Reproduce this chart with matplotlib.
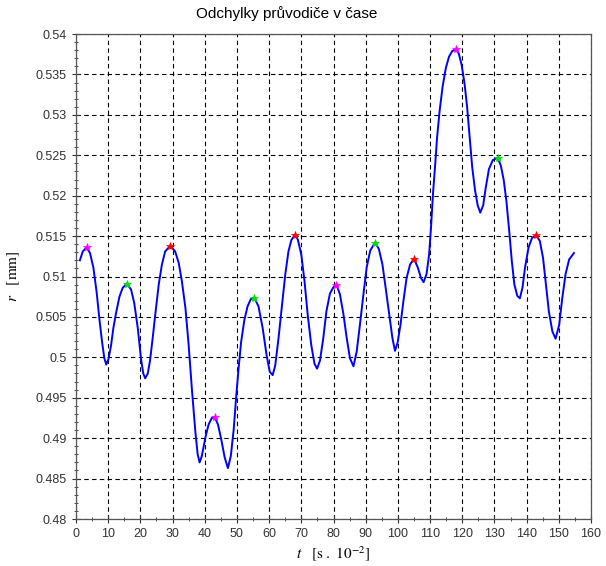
import numpy as np
import matplotlib
matplotlib.use("Agg")
import matplotlib.pyplot as plt
from matplotlib import ticker

# values (time in s.10^-2, radius deviation in mm)
t = [1.2, 2.1, 3.3, 4.35, 5.4, 6.4, 7.25, 8.1, 8.8, 9.4,
     10.1, 10.9, 11.6, 12.4, 13.5, 14.5, 15.8, 17.1, 18.1, 19.2,
     20.2, 20.9, 21.5, 22.3, 23.0, 23.8, 24.6, 25.7, 26.7, 27.7,
     29.3, 30.8, 31.9, 32.9, 34.0, 35.0, 36.0, 37.1, 37.8, 38.4,
     39.1, 40.2, 41.2, 42.2, 43.1, 44.1, 45.1, 46.2, 47.2, 48.1,
     49.0, 49.7, 50.5, 51.3, 52.3, 53.3, 54.3, 55.4, 56.7, 58.0,
     59.2, 60.2, 61.1, 61.9, 62.9, 64.0, 65.0, 66.0, 66.9, 67.9,
     68.9, 70.0, 71.0, 72.0, 73.1, 74.1, 74.9, 75.8, 76.8, 77.8,
     78.9, 80.0, 80.9, 82.0, 83.1, 84.1, 85.1, 86.2, 87.2, 88.2,
     89.3, 90.3, 91.4, 92.9, 94.1, 95.2, 96.2, 97.3, 98.3, 99.1,
     99.9, 100.8, 101.7, 102.7, 103.8, 105.0, 106.2, 107.2, 108.0, 108.9,
     109.7, 110.3, 110.9, 111.6, 112.2, 113.0, 113.9, 114.9, 115.9, 116.9,
     118.0, 118.9, 119.8, 120.7, 121.5, 122.3, 123.1, 124.0, 124.8, 125.6,
     126.5, 127.3, 128.3, 129.5, 131.0, 132.0, 132.9, 133.7, 134.6, 135.4,
     136.2, 137.1, 137.9, 138.7, 139.5, 140.6, 141.7, 143.0, 144.1, 145.1,
     146.0, 146.9, 148.0, 149.0, 150.1, 151.1, 152.1, 153.2, 154.7]
r = [0.5120, 0.5131, 0.5136, 0.5129, 0.5111, 0.5081, 0.5048, 0.5019, 0.4999, 0.4991,
     0.4998, 0.5015, 0.5036, 0.5054, 0.5075, 0.5086, 0.5091, 0.5084, 0.5067, 0.5036,
     0.4998, 0.4980, 0.4974, 0.4980, 0.4996, 0.5023, 0.5052, 0.5090, 0.5115, 0.5131,
     0.5138, 0.5131, 0.5117, 0.5094, 0.5061, 0.5015, 0.4961, 0.4907, 0.4880, 0.4870,
     0.4878, 0.4901, 0.4917, 0.4925, 0.4926, 0.4917, 0.4899, 0.4876, 0.4863, 0.4878,
     0.4911, 0.4948, 0.4986, 0.5019, 0.5046, 0.5063, 0.5072, 0.5074, 0.5063, 0.5036,
     0.5003, 0.4982, 0.4978, 0.4990, 0.5023, 0.5065, 0.5102, 0.5131, 0.5145, 0.5151,
     0.5146, 0.5127, 0.5094, 0.5052, 0.5015, 0.4992, 0.4986, 0.4996, 0.5023, 0.5057,
     0.5079, 0.5087, 0.5090, 0.5078, 0.5053, 0.5024, 0.4999, 0.4989, 0.5007, 0.5040,
     0.5078, 0.5111, 0.5132, 0.5142, 0.5134, 0.5115, 0.5086, 0.5053, 0.5024, 0.5008,
     0.5018, 0.5040, 0.5069, 0.5098, 0.5115, 0.5122, 0.5111, 0.5098, 0.5093, 0.5103,
     0.5127, 0.5161, 0.5202, 0.5239, 0.5273, 0.5306, 0.5335, 0.5358, 0.5372, 0.5379,
     0.5381, 0.5376, 0.5362, 0.5339, 0.5310, 0.5273, 0.5235, 0.5206, 0.5188, 0.5179,
     0.5188, 0.5210, 0.5233, 0.5244, 0.5247, 0.5237, 0.5219, 0.5194, 0.5156, 0.5119,
     0.5090, 0.5076, 0.5073, 0.5086, 0.5111, 0.5136, 0.5148, 0.5151, 0.5144, 0.5123,
     0.5090, 0.5057, 0.5032, 0.5023, 0.5040, 0.5074, 0.5103, 0.5121, 0.5129]

# marked maxima, colours cycle magenta / green / red
peak_t = [3.3, 15.8, 29.3, 43.1, 55.4, 67.9, 80.9, 92.9, 105.0, 118.0, 131.0, 143.0]
peak_r = [0.5136, 0.5091, 0.5138, 0.4926, 0.5074, 0.5151, 0.5090, 0.5142, 0.5122, 0.5381, 0.5247, 0.5151]
peak_colors = ['#ff00ff', '#00e000', '#ff0000'] * 4

plt.rcParams['font.family'] = ['Liberation Sans', 'DejaVu Sans']
plt.rcParams['mathtext.fontset'] = 'stix'

fig = plt.figure(figsize=(6.06, 5.66), dpi=100)
ax = fig.add_axes([76/606, 1 - 519/566, (591-76)/606, (519-34)/566])

ax.plot(t, r, color='#0000ff', lw=1.4, zorder=3)
for pt, pr, c in zip(peak_t, peak_r, peak_colors):
    ax.plot(pt, pr, marker='*', color=c, ms=6, mew=0.5, zorder=4)

ax.set_xlim(0, 160)
ax.set_ylim(0.48, 0.54)
ax.xaxis.set_major_locator(ticker.MultipleLocator(10))
ax.xaxis.set_minor_locator(ticker.AutoMinorLocator(2))
ax.yaxis.set_major_locator(ticker.MultipleLocator(0.005))
ax.yaxis.set_minor_locator(ticker.AutoMinorLocator(5))
ax.yaxis.set_major_formatter(ticker.FuncFormatter(lambda v, p: ('%.3f' % v).rstrip('0').rstrip('.')))

ax.grid(True, which='major', color='k', ls=(0, (4, 3)), lw=0.8)
ax.tick_params(axis='both', which='major', direction='inout', length=6, labelsize=9,
               labelcolor='#333333', color='#333333')
ax.tick_params(axis='both', which='minor', direction='inout', length=3, color='#333333')
for s in ax.spines.values():
    s.set_color('#555555')
    s.set_linewidth(0.9)

ax.set_xlabel(r'$t\quad[\mathrm{s\ .\ 10^{-2}}]$', fontsize=11, labelpad=3)
ax.set_ylabel(r'$r\quad[\mathrm{mm}]$', fontsize=11, labelpad=10)
fig.text(287/606, 1 - 14/566, 'Odchylky průvodiče v čase', ha='center', va='center', fontsize=11)

fig.savefig('out.png', dpi=100)
